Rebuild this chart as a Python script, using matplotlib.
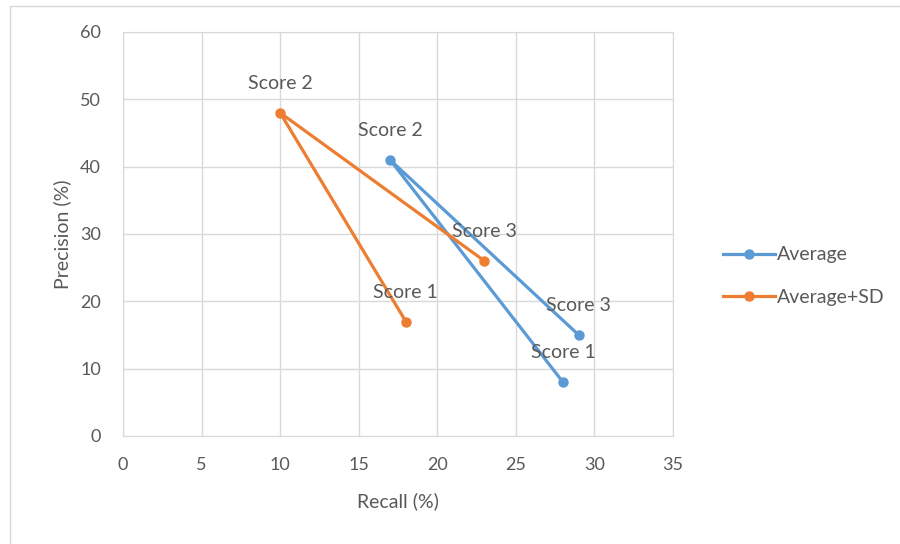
import matplotlib.pyplot as plt
from matplotlib.lines import Line2D

# data (recall %, precision %)
labels = ["Score 1", "Score 2", "Score 3"]
avg_recall = [28, 17, 29]
avg_precision = [8, 41, 15]
sd_recall = [18, 10, 23]
sd_precision = [17, 48, 26]

x_ticks = [0, 5, 10, 15, 20, 25, 30, 35]
y_ticks = [0, 10, 20, 30, 40, 50, 60]

blue = "#5B9BD5"
orange = "#ED7D31"
grid_c = "#D9D9D9"
text_c = "#595959"

plt.rcParams['font.family'] = ['Lato', 'DejaVu Sans']

fig = plt.figure(figsize=(9, 5.44), dpi=100)
ax = fig.add_axes([123 / 900, 1 - 436 / 544, (673 - 123) / 900, (436 - 32) / 544])

ax.plot(avg_recall, avg_precision, color=blue, lw=2.3, marker="o", ms=6.5,
        label="Average", zorder=3)
ax.plot(sd_recall, sd_precision, color=orange, lw=2.3, marker="o", ms=6.5,
        label="Average+SD", zorder=3)

# data labels above each point, like the Excel chart
for xs, ys in [(avg_recall, avg_precision), (sd_recall, sd_precision)]:
    for lab, x, y in zip(labels, xs, ys):
        ax.annotate(lab, (x, y), xytext=(0, 21), textcoords="offset points",
                    ha="center", va="center", fontsize=14, color=text_c,
                    zorder=4)

ax.set_xlim(0, 35)
ax.set_ylim(0, 60)
ax.set_xticks(x_ticks)
ax.set_yticks(y_ticks)
ax.grid(True, color=grid_c, lw=1)
ax.set_axisbelow(True)
for s in ax.spines.values():
    s.set_color(grid_c)
ax.tick_params(length=0, labelsize=13, labelcolor=text_c)
ax.tick_params(axis="x", pad=15)
ax.tick_params(axis="y", pad=16)

ax.set_xlabel("Recall (%)", fontsize=14, color=text_c, labelpad=14)
ax.set_ylabel("Precision (%)", fontsize=14, color=text_c, labelpad=6)

ax.legend(loc="center left", bbox_to_anchor=(705 / 900, 1 - 276 / 544),
          bbox_transform=fig.transFigure, frameon=False, fontsize=14,
          labelcolor=text_c, handlelength=2.7, handletextpad=0.12,
          labelspacing=1.3)

# light outer frame of the chart area
fig.add_artist(Line2D([10 / 900, 10 / 900], [0, 1 - 6 / 544], color=grid_c,
                      lw=1, transform=fig.transFigure))
fig.add_artist(Line2D([10 / 900, 1], [1 - 6 / 544, 1 - 6 / 544], color=grid_c,
                      lw=1, transform=fig.transFigure))

fig.savefig("out.png", dpi=100)
